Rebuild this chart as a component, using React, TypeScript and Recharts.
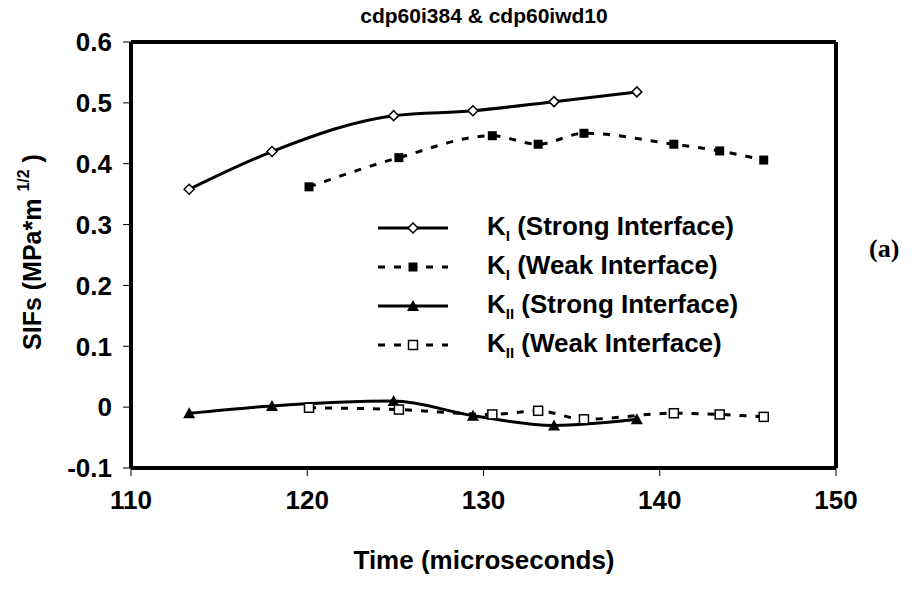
import { Line, LineChart, ReferenceLine, XAxis, YAxis } from "recharts";

const strongTimes = [113.3, 118.0, 124.9, 129.4, 134.0, 138.7];
const weakTimes = [120.1, 125.2, 130.5, 133.1, 135.7, 140.8, 143.4, 145.9];
const kIStrong = [0.358, 0.42, 0.479, 0.487, 0.502, 0.518];
const kIWeak = [0.362, 0.41, 0.446, 0.432, 0.45, 0.432, 0.421, 0.406];
const kIIStrong = [-0.01, 0.002, 0.01, -0.014, -0.03, -0.02];
const kIIWeak = [-0.001, -0.004, -0.012, -0.006, -0.02, -0.01, -0.012, -0.016];
const xTicks = [110, 120, 130, 140, 150];
const yTicks = [-0.1, 0, 0.1, 0.2, 0.3, 0.4, 0.5, 0.6];

const FONT = '"Liberation Sans", Arial, sans-serif';

const zip = (ts: number[], vs: number[]) => ts.map((t, i) => ({ t, v: vs[i] }));

const Diamond = ({ cx, cy }: any) => (
  <polygon points={`${cx},${cy - 5} ${cx + 5},${cy} ${cx},${cy + 5} ${cx - 5},${cy}`} fill="#fff" stroke="#000" strokeWidth={1.5} />
);
const FilledSquare = ({ cx, cy }: any) => <rect x={cx - 4.5} y={cy - 4.5} width={9} height={9} fill="#000" />;
const Triangle = ({ cx, cy }: any) => (
  <polygon points={`${cx},${cy - 6} ${cx + 6},${cy + 5} ${cx - 6},${cy + 5}`} fill="#000" />
);
const OpenSquare = ({ cx, cy }: any) => (
  <rect x={cx - 4.5} y={cy - 4.5} width={9} height={9} fill="#fff" stroke="#000" strokeWidth={1.5} />
);

const legendRows = [
  { sub: "I", name: "Strong Interface", dash: undefined, mark: "diamond" },
  { sub: "I", name: "Weak Interface", dash: "7 9", mark: "fsquare" },
  { sub: "II", name: "Strong Interface", dash: undefined, mark: "triangle" },
  { sub: "II", name: "Weak Interface", dash: "7 9", mark: "osquare" },
];

function LegendMark({ mark }: { mark: string }) {
  const p = { cx: 35, cy: 8 };
  if (mark === "diamond") return <Diamond {...p} />;
  if (mark === "fsquare") return <FilledSquare {...p} />;
  if (mark === "triangle") return <Triangle {...p} />;
  return <OpenSquare {...p} />;
}

export default function App() {
  return (
    <div style={{ position: "relative", width: 908, height: 591, fontFamily: FONT }}>
      <div style={{ position: "absolute", left: 0, width: 952, top: -4, textAlign: "center", fontWeight: "bold", fontSize: 21 }}>
        cdp60i384 &amp; cdp60iwd10
      </div>
      <LineChart width={908} height={591} data={[]} margin={{ top: 34, right: 80, bottom: 71, left: 0 }}>
        <XAxis
          type="number"
          dataKey="t"
          domain={[110, 150]}
          ticks={xTicks}
          allowDataOverflow
          height={60}
          tickSize={8}
          tickMargin={15}
          axisLine={{ stroke: "#000", strokeWidth: 4 }}
          tickLine={{ stroke: "#000", strokeWidth: 1 }}
          tick={{ fill: "#000", fontSize: 26, fontWeight: "bold", fontFamily: FONT }}
          label={{
            content: () => (
              <text x={476} y={561} textAnchor="middle" fontSize={26} fontWeight="bold" fontFamily={FONT} fill="#000">
                Time (microseconds)
              </text>
            ),
          }}
        />
        <YAxis
          type="number"
          dataKey="v"
          domain={[-0.1, 0.6]}
          ticks={yTicks}
          allowDataOverflow
          width={123}
          tickSize={8}
          tickMargin={11}
          tickFormatter={(v: number) => (Math.abs(v) < 1e-9 ? "0" : v.toFixed(1))}
          axisLine={{ stroke: "#000", strokeWidth: 4 }}
          tickLine={{ stroke: "#000", strokeWidth: 1 }}
          tick={{ fill: "#000", fontSize: 26, fontWeight: "bold", fontFamily: FONT }}
          label={{
            content: () => (
              <text
                x={0}
                y={0}
                transform="translate(33,244) rotate(-90)"
                textAnchor="middle"
                fontSize={25}
                fontWeight="bold"
                fontFamily={FONT}
                fill="#000"
              >
                SIFs (MPa*m <tspan fontSize={16} dy={-12}>1/2</tspan>
                <tspan dy={12}> )</tspan>
              </text>
            ),
          }}
        />
        <ReferenceLine y={0.6} stroke="#000" strokeWidth={4} />
        <ReferenceLine x={150} stroke="#000" strokeWidth={4} />
        <Line
          data={zip(strongTimes, kIStrong)}
          dataKey="v"
          type="monotone"
          stroke="#000"
          strokeWidth={3}
          dot={<Diamond />}
          isAnimationActive={false}
        />
        <Line
          data={zip(weakTimes, kIWeak)}
          dataKey="v"
          type="monotone"
          stroke="#000"
          strokeWidth={3}
          strokeDasharray="7 9"
          dot={<FilledSquare />}
          isAnimationActive={false}
        />
        <Line
          data={zip(strongTimes, kIIStrong)}
          dataKey="v"
          type="monotone"
          stroke="#000"
          strokeWidth={3}
          dot={<Triangle />}
          isAnimationActive={false}
        />
        <Line
          data={zip(weakTimes, kIIWeak)}
          dataKey="v"
          type="monotone"
          stroke="#000"
          strokeWidth={3}
          strokeDasharray="7 9"
          dot={<OpenSquare />}
          isAnimationActive={false}
        />
      </LineChart>
      {legendRows.map((r, i) => (
        <div
          key={i}
          style={{ position: "absolute", left: 370, top: 203 + i * 39, height: 34, display: "flex", alignItems: "center" }}
        >
          <svg width={72} height={16} style={{ marginRight: 37 }}>
            <line x1={0} y1={8} x2={70} y2={8} stroke="#000" strokeWidth={3} strokeDasharray={r.dash} />
            <LegendMark mark={r.mark} />
          </svg>
          <span style={{ fontSize: 26, fontWeight: "bold", whiteSpace: "nowrap" }}>
            K<sub style={{ fontSize: 15 }}>{r.sub}</sub> ({r.name})
          </span>
        </div>
      ))}
      <div
        style={{
          position: "absolute",
          left: 861,
          top: 226,
          fontFamily: '"Liberation Serif", "Times New Roman", serif',
          fontWeight: "bold",
          fontSize: 26,
        }}
      >
        (a)
      </div>
    </div>
  );
}
